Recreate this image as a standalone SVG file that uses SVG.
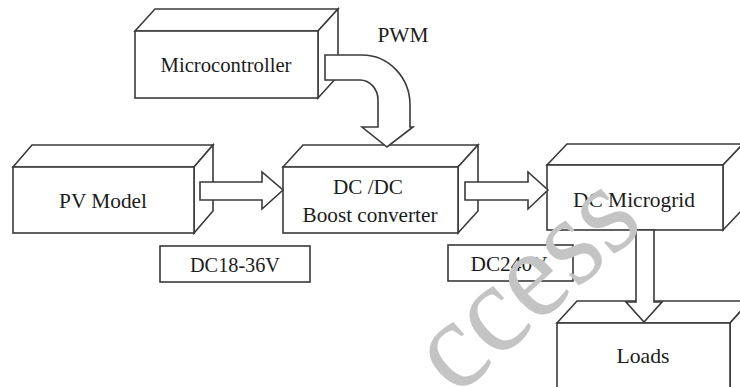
<svg xmlns="http://www.w3.org/2000/svg" width="740" height="387" viewBox="0 0 740 387">
  <style>
    .face { fill: #ffffff; stroke: #3a3a3a; stroke-width: 1.6; stroke-linejoin: miter; }
    .arrow { fill: #ffffff; stroke: #3a3a3a; stroke-width: 1.6; stroke-linejoin: miter; }
    .label { font-size: 21px; fill: #1c1c1c; text-anchor: middle; }
    .mark { font-size: 128px; fill: #c4c4c4; }
  </style>
  <rect width="740" height="387" fill="#ffffff"/>

  <g font-family="Liberation Serif, Times New Roman, Times, serif">
  <!-- Microcontroller block -->
  <g id="microcontroller">
    <polygon class="face" points="135,31 155,9 338,9 318,31"/>
    <polygon class="face" points="318,31 338,9 338,76 318,98"/>
    <rect class="face" x="135" y="31" width="183" height="67"/>
    <text class="label" x="226" y="72" textLength="131" lengthAdjust="spacingAndGlyphs">Microcontroller</text>
  </g>

  <!-- PV Model block -->
  <g id="pv-model">
    <polygon class="face" points="13,167 32,145 213,145 194,167"/>
    <polygon class="face" points="194,167 213,145 213,211 194,233"/>
    <rect class="face" x="13" y="167" width="181" height="66"/>
    <text class="label" x="103" y="208" textLength="88" lengthAdjust="spacingAndGlyphs">PV Model</text>
  </g>

  <!-- DC/DC boost converter block -->
  <g id="boost-converter">
    <polygon class="face" points="283,167 303,145 478,145 458,167"/>
    <polygon class="face" points="458,167 478,145 478,211 458,233"/>
    <rect class="face" x="283" y="167" width="175" height="66"/>
    <text class="label" x="368" y="194" textLength="70" lengthAdjust="spacingAndGlyphs">DC /DC</text>
    <text class="label" x="370" y="222" textLength="135" lengthAdjust="spacingAndGlyphs">Boost converter</text>
  </g>

  <!-- DC microgrid block -->
  <g id="dc-microgrid">
    <polygon class="face" points="547,165 567,144 743,144 723,165"/>
    <polygon class="face" points="723,165 743,144 743,209 723,230"/>
    <rect class="face" x="547" y="165" width="176" height="65"/>
    <text class="label" x="634" y="207" textLength="122" lengthAdjust="spacingAndGlyphs">DC Microgrid</text>
  </g>

  <!-- Loads block -->
  <g id="loads">
    <polygon class="face" points="557,323 577,301 750,301 730,323"/>
    <polygon class="face" points="730,323 750,301 750,400 730,420"/>
    <rect class="face" x="557" y="323" width="173" height="100"/>
    <text class="label" x="643" y="363" textLength="53" lengthAdjust="spacingAndGlyphs">Loads</text>
  </g>

  <!-- Voltage tags -->
  <g id="tag-input">
    <rect class="face" x="160" y="246" width="150" height="36"/>
    <text class="label" x="235" y="272" textLength="90" lengthAdjust="spacingAndGlyphs">DC18-36V</text>
  </g>
  <g id="tag-output">
    <rect class="face" x="448" y="245" width="125" height="36"/>
    <text class="label" x="509" y="271" textLength="77" lengthAdjust="spacingAndGlyphs">DC240V</text>
  </g>

  <!-- Block arrows between the stages -->
  <g id="connectors">
    <path class="arrow" d="M325,55 H362 A48,50 0 0 1 410,105 V127 H413 L387,147 L362,127 H378 V100 A18,20 0 0 0 360,80 H325 Z"/>
    <path class="arrow" d="M200,182 H262 V172 L283,190 L262,209 V200 H200 Z"/>
    <path class="arrow" d="M465,182 H528 V172 L548,190 L528,209 V200 H465 Z"/>
    <path class="arrow" d="M636,230 V302 H626 L644,322 L662,302 H654 V230 Z"/>
    <text class="label" x="403" y="42" textLength="51" lengthAdjust="spacingAndGlyphs">PWM</text>
  </g>

  <!-- Diagonal watermark lettering -->
  <g id="watermark">
    <text class="mark" transform="translate(456,398) rotate(-42)" textLength="256" lengthAdjust="spacingAndGlyphs">ccess</text>
  </g>
  </g>
</svg>
